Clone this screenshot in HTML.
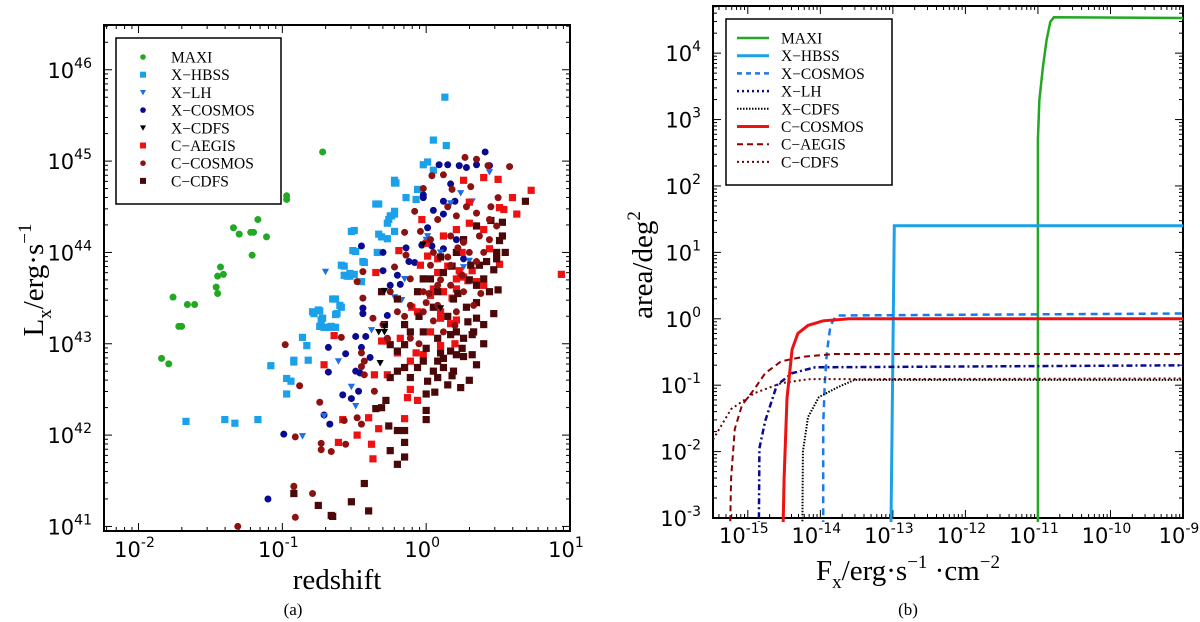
<!DOCTYPE html>
<html><head><meta charset="utf-8">
<style>
html,body{margin:0;padding:0;background:#fff;}
svg{display:block;}
text{font-family:"Liberation Serif",serif;}
.tk{font-family:"DejaVu Sans","Liberation Sans",sans-serif;font-size:21px;}
</style></head>
<body>
<svg id="fig" width="1200" height="622" viewBox="0 0 1200 622" xmlns="http://www.w3.org/2000/svg" style="position:absolute;left:0;top:0"></svg>
<script>
// ---------------- Panel (a) data: [log10 z, log10 Lx] ----------------
const maxiPts = [[-0.72,45.10],[-0.97,44.58],[-0.97,44.62],[-1.17,44.36],[-1.34,44.27],[-1.30,44.20],[-1.22,44.22],[-1.20,44.22],[-1.11,44.17],[-1.21,43.97],[-1.43,43.84],[-1.41,43.76],[-1.45,43.74],[-1.46,43.62],[-1.45,43.55],[-1.76,43.51],[-1.66,43.43],[-1.61,43.43],[-1.72,43.19],[-1.70,43.19],[-1.84,42.84],[-1.79,42.78]];
const hbssPts = [[-1.67,42.15],[-1.40,42.17],[-1.33,42.13],[-1.17,42.17],[-1.08,42.76],[-0.97,42.62],[-0.94,42.59],[-0.97,42.45],[-0.92,42.80],[-0.92,42.82],[-0.86,43.07],[-0.83,42.98],[-0.82,42.82],[-0.78,43.33],[-0.74,43.36],[-0.72,43.28],[-0.70,43.18],[-0.66,43.18],[-0.63,43.18],[-0.62,43.33],[-0.63,43.49],[-0.59,43.40],[-0.57,43.85],[-0.55,43.74],[-0.53,43.74],[-0.50,43.76],[-0.49,44.01],[-0.43,43.89],[-0.50,44.24],[-0.31,44.17],[-0.33,44.53],[-0.26,44.36],[-0.24,44.40],[-0.22,44.45],[-0.22,44.76],[0.13,45.70],[0.05,45.23],[0.14,45.17],[0.01,44.99],[-0.02,44.96],[0.05,44.90],[-0.22,44.79],[-0.21,44.76],[-0.14,44.60],[-0.07,44.58],[-0.06,44.69],[-0.35,44.53],[-0.27,44.32],[-0.25,44.40],[-0.22,44.42],[-0.33,44.20],[-0.27,44.15],[-0.22,44.23],[-0.52,44.23],[-0.51,44.02],[-0.44,43.90],[-0.34,44.00],[-0.59,43.86],[-0.57,43.75],[-0.53,43.77],[-0.45,43.68],[-0.65,43.49],[-0.60,43.42],[-0.63,43.32],[-0.79,43.35],[-0.75,43.37],[-0.73,43.26],[-0.74,43.19],[-0.71,43.18],[-0.66,43.19]];
const xcosPts = [[-0.99,42.01],[-1.10,41.30],[0.41,45.10],[0.09,44.96],[0.15,44.96],[0.23,44.95],[0.28,44.93],[0.35,44.96],[0.44,44.95],[-0.02,44.63],[-0.02,44.60],[0.17,44.75],[0.12,44.56],[0.20,44.56],[0.05,44.46],[0.12,44.42],[0.01,44.27],[-0.14,44.05],[-0.30,44.00],[-0.03,44.08],[0.04,44.07],[-0.12,43.90],[-0.08,43.89],[-0.30,43.80],[-0.45,44.07],[-0.20,43.75],[-0.25,43.64],[-0.18,43.65],[-0.44,43.39],[-0.44,43.33],[-0.49,43.08],[-0.42,43.08],[-0.27,43.31],[-0.68,42.96],[-0.56,42.89],[-0.45,42.96],[-0.68,42.69],[-0.39,42.85],[-0.49,42.70],[-0.46,42.68],[-0.58,42.44],[-0.52,42.40],[-0.47,42.48],[-0.71,42.22],[-0.67,42.12],[0.26,43.93],[0.12,44.04],[0.21,44.14]];
const xlhPts = [[-0.70,43.79],[-0.15,43.71],[-0.22,43.51],[-0.17,43.48],[-0.61,42.81],[-0.52,42.53],[-0.71,42.21],[-0.86,41.99],[-0.92,41.40],[-0.49,42.32],[-0.38,43.15],[0.01,44.18],[0.00,44.14],[0.24,44.65],[0.32,44.56],[0.44,44.88],[0.17,44.54],[0.30,43.91],[0.26,43.84],[0.10,44.00]];
const xcdfsPts = [[-0.02,44.09],[0.10,43.39],[-0.33,43.13],[-0.29,43.13],[-0.32,42.79],[-0.29,43.58],[-0.29,43.19]];
const caegPts = [[0.73,44.68],[0.63,44.42],[0.54,44.47],[0.51,44.49],[0.51,43.87],[0.44,44.04],[0.24,43.75],[0.26,43.73],[0.23,43.80],[0.26,44.79],[0.40,44.82],[0.50,44.80],[-0.03,44.36],[0.01,43.96],[0.08,43.93],[-0.19,44.02],[-0.35,43.78],[-0.64,43.09],[-0.71,42.77],[-0.31,43.03],[-0.27,43.03],[-0.18,43.06],[-0.07,42.90],[-0.02,42.88],[-0.11,42.81],[-0.36,42.66],[-0.27,42.66],[-0.11,42.50],[-0.06,42.38],[-0.13,42.41],[-0.40,42.19],[-0.33,42.07],[-0.15,42.18],[-0.58,42.17],[-0.61,41.92],[-0.48,42.00],[-0.38,41.90],[-0.37,41.74],[0.10,43.28],[0.17,43.22],[0.21,43.26],[0.12,43.57],[0.21,43.60],[0.03,43.53],[-0.06,43.35],[0.35,43.68],[0.40,43.64],[0.08,43.78],[0.21,43.71],[0.29,43.69],[-0.02,43.71],[-0.04,43.86],[0.12,44.18],[0.21,44.25],[0.30,44.32],[0.03,43.13],[0.10,42.98],[0.94,43.76],[0.15,43.85],[0.25,44.0],[0.05,43.6],[0.32,43.8],[0.18,43.5],[-0.1,43.4],[0.0,44.1],[0.4,44.25],[0.6,44.6],[0.2,43.0],[-0.2,42.9],[0.3,44.55],[0.1,43.35]];
const ccosPts = [[0.58,44.94],[0.27,45.04],[0.35,45.02],[0.43,44.95],[0.04,44.84],[-0.02,44.70],[0.18,44.69],[0.31,44.72],[0.08,44.36],[0.21,44.40],[0.35,44.43],[0.44,44.36],[-0.04,44.23],[0.03,44.14],[0.17,44.18],[0.26,44.11],[0.37,44.18],[-0.14,43.97],[-0.22,43.84],[-0.44,43.79],[-0.48,43.68],[-0.44,43.50],[-0.37,43.28],[-0.30,43.21],[-0.27,43.06],[-0.59,43.07],[-0.45,42.90],[-0.43,42.81],[-0.98,42.99],[-0.88,42.54],[-0.45,42.75],[-0.43,42.66],[-0.36,42.48],[-0.74,42.36],[-0.48,42.19],[-0.45,42.12],[-0.57,42.16],[-0.91,41.98],[-0.73,41.91],[-0.73,41.84],[-0.66,41.82],[-0.56,41.90],[-0.92,41.44],[-0.79,41.36],[-0.91,41.10],[-1.31,41.00],[-0.11,43.71],[-0.02,43.57],[0.08,43.64],[0.17,43.86],[-0.11,43.42],[-0.20,43.35],[-0.02,43.35],[0.08,43.42],[0.21,43.35],[0.33,43.42],[0.40,44.00],[0.44,44.14],[0.49,44.29],[-0.11,43.06],[-0.25,43.57],[-0.15,44.22],[0.12,43.13],[0.03,43.86],[0.17,43.64],[0.26,43.57],[0.15,43.95],[0.22,44.05],[0.30,44.0],[0.05,44.0],[0.0,43.45],[0.1,43.7],[0.25,43.75],[0.35,43.9],[0.45,44.5],[0.28,44.5],[0.15,44.5],[-0.08,44.45],[0.2,43.2],[0.05,43.25],[-0.05,43.0],[0.38,43.55],[0.5,44.6],[0.12,44.85],[0.02,43.55],[-0.15,43.3]];
const ccdfsPts = [[0.69,44.56],[0.53,44.33],[0.53,44.18],[0.51,44.13],[0.49,44.00],[0.49,43.93],[0.47,43.81],[0.50,43.59],[0.47,43.33],[0.35,43.28],[0.40,43.21],[0.33,43.13],[0.29,43.24],[0.32,42.88],[0.26,42.86],[0.21,42.88],[0.17,42.92],[0.35,42.77],[0.19,42.70],[0.12,42.74],[0.08,42.63],[0.01,42.59],[0.24,42.52],[0.18,42.65],[0.06,42.47],[0.00,42.45],[0.00,42.27],[0.00,42.17],[-0.15,42.05],[-0.15,41.92],[-0.20,42.05],[-0.26,42.10],[-0.25,41.83],[-0.15,41.76],[-0.20,41.68],[-0.31,42.30],[-0.35,42.29],[-0.28,42.38],[-0.43,41.47],[-0.52,41.27],[-0.40,41.17],[-0.66,41.12],[-0.65,41.11],[-0.75,41.23],[-0.92,41.36],[-0.25,42.63],[-0.20,42.70],[-0.15,42.74],[-0.11,42.63],[-0.06,42.74],[-0.20,42.92],[-0.15,42.99],[-0.25,42.99],[-0.11,43.13],[-0.02,43.13],[0.08,43.06],[0.17,43.10],[0.21,43.13],[-0.02,42.81],[0.08,42.81],[0.12,42.84],[0.26,43.06],[0.35,43.64],[0.40,43.71],[0.44,43.57],[0.31,43.86],[0.37,43.86],[0.26,44.14],[0.35,44.29],[0.21,44.00],[0.12,43.78],[0.03,43.71],[-0.06,43.57],[-0.02,43.71],[0.08,43.57],[0.19,43.49],[-0.20,43.49],[-0.31,43.57],[-0.29,43.21],[-0.15,43.21],[0.15,43.3],[0.28,43.4],[0.22,43.55],[0.05,43.4],[0.35,43.45],[0.42,43.9],[0.3,43.7],[0.25,42.95],[0.4,43.0],[0.1,42.9],[0.55,44.0],[0.45,44.35],[0.1,43.95],[0.18,43.85],[0.0,42.95],[-0.05,43.3],[0.32,43.1],[0.05,42.7],[0.15,42.55],[0.3,42.6]];
const aXTicks = [-2,-1,0,1];
const aYTicks = [41,42,43,44,45,46];

// ---------------- Panel (b) data: [log10 F, log10 area] ----------------
const maxiCurve = [[-11.0,-3.5],[-11.0,2.7],[-10.98,3.3],[-10.93,3.8],[-10.88,4.2],[-10.83,4.47],[-10.78,4.54],[-9.0,4.53]];
const hbssCurve = [[-13.03,-3.5],[-12.98,1.4],[-9.0,1.4]];
const xcosCurve = [[-13.96,-3.5],[-13.96,-1.6],[-13.94,-1.0],[-13.91,-0.5],[-13.86,-0.1],[-13.78,0.05],[-9.0,0.08]];
const xlhCurve = [[-14.85,-3.5],[-14.84,-1.95],[-14.76,-1.54],[-14.6,-1.0],[-14.39,-0.82],[-14.07,-0.73],[-9.0,-0.7]];
const xcdfsCurve = [[-14.25,-3.5],[-14.24,-2.0],[-14.17,-1.48],[-14.02,-1.18],[-13.76,-1.03],[-13.53,-0.92],[-9.0,-0.92]];
const ccosCurve = [[-14.52,-3.5],[-14.5,-2.4],[-14.46,-1.2],[-14.39,-0.46],[-14.31,-0.22],[-14.17,-0.1],[-13.96,-0.03],[-13.6,0.0],[-9.0,0.0]];
const caegCurve = [[-15.25,-3.5],[-15.23,-2.4],[-15.18,-1.66],[-15.08,-1.3],[-14.91,-1.06],[-14.76,-0.82],[-14.54,-0.64],[-14.22,-0.57],[-13.8,-0.53],[-9.0,-0.53]];
const ccdfsCurve = [[-15.48,-1.82],[-15.23,-1.36],[-14.91,-1.12],[-14.54,-0.97],[-14.17,-0.91],[-9.0,-0.9]];
const bXTicks = [-15,-14,-13,-12,-11,-10,-9];
const bYTicks = [-3,-2,-1,0,1,2,3,4];

const NS = "http://www.w3.org/2000/svg";
const svg = document.getElementById('fig');
function el(tag, attrs, parent){ const e=document.createElementNS(NS,tag); for(const k in attrs) e.setAttribute(k,attrs[k]); (parent||svg).appendChild(e); return e; }

const A = {x0:104, x1:570, y0:25, y1:531, lx0:-2.24, lx1:1.0, ly0:40.95, ly1:46.49, lab:26};
const B = {x0:713, x1:1183, y0:6, y1:518, lx0:-15.48, lx1:-9.0, ly0:-3.0, ly1:4.71, lab:25};
function sx(P,v){ return P.x0 + (v-P.lx0)/(P.lx1-P.lx0)*(P.x1-P.x0); }
function sy(P,v){ return P.y1 - (v-P.ly0)/(P.ly1-P.ly0)*(P.y1-P.y0); }

function clipFor(P,id){
  const d=el('defs',{}); const c=el('clipPath',{id:id},d);
  el('rect',{x:P.x0,y:P.y0-4,width:P.x1-P.x0,height:P.y1-P.y0+8},c);
}
clipFor(A,'clipA'); clipFor(B,'clipB');

function drawAxes(P, xt, yt, name){
  const g = el('g',{});
  
  
  const xmin = Math.floor(P.lx0), xmax=Math.ceil(P.lx1);
  for(let d=xmin; d<=xmax; d++){
    for(let m=1;m<10;m++){
      const v=d+Math.log10(m); if(v<P.lx0-1e-9||v>P.lx1+1e-9) continue;
      const X=sx(P,v), L=(m===1)?8:4;
      el('line',{x1:X,y1:P.y1,x2:X,y2:P.y1-L,stroke:'#000','stroke-width':1},g);
      el('line',{x1:X,y1:P.y0,x2:X,y2:P.y0+L,stroke:'#000','stroke-width':1},g);
    }
  }
  const ymin=Math.floor(P.ly0), ymax=Math.ceil(P.ly1);
  for(let d=ymin; d<=ymax; d++){
    for(let m=1;m<10;m++){
      const v=d+Math.log10(m); if(v<P.ly0-1e-9||v>P.ly1+1e-9) continue;
      const Y=sy(P,v), L=(m===1)?8:4;
      el('line',{x1:P.x0,y1:Y,x2:P.x0+L,y2:Y,stroke:'#000','stroke-width':1},g);
      el('line',{x1:P.x1,y1:Y,x2:P.x1-L,y2:Y,stroke:'#000','stroke-width':1},g);
    }
  }
  el('rect',{x:P.x0,y:P.y0,width:P.x1-P.x0,height:P.y1-P.y0,fill:'none',stroke:'#000','stroke-width':2},g);
  xt.forEach(v=>{
    const t=el('text',{x:sx(P,v)-4,y:P.y1+P.lab,'text-anchor':'middle',class:'tk'},g);
    
    
    t.appendChild(document.createTextNode('10'));
    const s=el('tspan',{'font-size':'14','dy':'-10'},t); s.textContent=String(v);
  });
  yt.forEach(v=>{
    const t=el('text',{x:P.x0-12,y:sy(P,v)+8,'text-anchor':'end',class:'tk'},g);
    
    
    t.appendChild(document.createTextNode('10'));
    const s=el('tspan',{'font-size':'14','dy':'-10'},t); s.textContent=String(v);
  });
}
drawAxes(A,aXTicks,aYTicks,'panel-a');
drawAxes(B,bXTicks,bYTicks,'panel-b');

function marker(g,shape,X,Y,col,r){
  let m;
  if(shape==='o') m=el('circle',{cx:X,cy:Y,r:r,fill:col},g);
  else if(shape==='s') m=el('rect',{x:X-r,y:Y-r,width:2*r,height:2*r,fill:col},g);
  else m=el('polygon',{points:`${X-r},${Y-r*0.8} ${X+r},${Y-r*0.8} ${X},${Y+r}`,fill:col},g);
  return m;
}
const series = [
  {pts:maxiPts, shape:'o', col:'#22a822', name:'maxi'},
  {pts:hbssPts, shape:'s', col:'#1ba1ea', name:'x-hbss'},
  {pts:xcosPts, shape:'o', col:'#0a0a90', name:'x-cosmos'},
  {pts:xlhPts, shape:'t', col:'#1e6ee6', name:'x-lh'},
  {pts:caegPts, shape:'s', col:'#ee1111', name:'c-aegis'},
  {pts:ccdfsPts, shape:'s', col:'#4a0808', name:'c-cdfs'},
  {pts:ccosPts, shape:'o', col:'#8c1212', name:'c-cosmos'},
  {pts:xcdfsPts, shape:'t', col:'#000000', name:'x-cdfs'}
];
series.forEach(s=>{
  const g=el('g',{'clip-path':'url(#clipA)'});
  
  
  s.pts.forEach(p=>{
    const m=marker(g,s.shape,sx(A,p[0]),sy(A,p[1]),s.col,s.shape==='o'?3.5:3.6);
    
    
  });
});

const legA = el('g',{});


el('rect',{x:116,y:38,width:165,height:166,fill:'#fff',stroke:'#000','stroke-width':1.5},legA);
const legAItems=[['MAXI','o','#22a822'],['X\u2212HBSS','s','#1ba1ea'],['X\u2212LH','t','#1e6ee6'],['X\u2212COSMOS','o','#0a0a90'],['X\u2212CDFS','t','#000'],['C\u2212AEGIS','s','#ee1111'],['C\u2212COSMOS','o','#8c1212'],['C\u2212CDFS','s','#4a0808']];
legAItems.forEach((it,i)=>{
  const Y=57+i*17.7;
  const m=marker(legA,it[1],143,Y,it[2],it[1]==='o'?2.8:3);
  
  
  const t=el('text',{x:171,y:Y+5.5,'font-size':'15.5'},legA); t.textContent=it[0];
  
  
});

const curves=[
  {d:maxiCurve,col:'#22a822',w:2.5,dash:'',name:'maxi'},
  {d:hbssCurve,col:'#1ba1ea',w:3,dash:'',name:'x-hbss'},
  {d:xcosCurve,col:'#1e78e6',w:2.5,dash:'7,5',name:'x-cosmos'},
  {d:xlhCurve,col:'#0a0a90',w:2.5,dash:'2,3,6,3',name:'x-lh'},
  {d:xcdfsCurve,col:'#000',w:2,dash:'1.5,1.5',name:'x-cdfs'},
  {d:caegCurve,col:'#8c0000',w:2,dash:'6,4',name:'c-aegis'},
  {d:ccdfsCurve,col:'#6a0000',w:2,dash:'2,3',name:'c-cdfs'},
  {d:ccosCurve,col:'#ee1111',w:3,dash:'',name:'c-cosmos'}
];
curves.forEach(c=>{
  const pts=c.d.map(p=>sx(B,p[0]).toFixed(1)+','+sy(B,p[1]).toFixed(1)).join(' ');
  const pl=el('polyline',{points:pts,fill:'none',stroke:c.col,'stroke-width':c.w,'stroke-dasharray':c.dash,'clip-path':'url(#clipB)'});
  
  
});

const legB = el('g',{});


el('rect',{x:726,y:19,width:166,height:166,fill:'#fff',stroke:'#000','stroke-width':1.5},legB);
const legBItems=[['MAXI','#22a822',2.5,''],['X\u2212HBSS','#1ba1ea',3,''],['X\u2212COSMOS','#1e78e6',2.5,'5,4'],['X\u2212LH','#0a0a90',2.5,'2,3'],['X\u2212CDFS','#000',2,'1.5,1.5'],['C\u2212COSMOS','#ee1111',3,''],['C\u2212AEGIS','#8c0000',2,'6,4'],['C\u2212CDFS','#6a0000',2,'2,3']];
legBItems.forEach((it,i)=>{
  const Y=38+i*17.7;
  const l=el('line',{x1:737,y1:Y,x2:769,y2:Y,stroke:it[1],'stroke-width':it[2],'stroke-dasharray':it[3]},legB);
  
  
  const t=el('text',{x:781,y:Y+5.5,'font-size':'15.5'},legB); t.textContent=it[0];
  
  
});
</script>
<div style="position:absolute;left:0;top:0;width:1200px;height:622px;pointer-events:none;">
<svg width="1200" height="622" style="position:absolute;left:0;top:0">
  <text x="337" y="589" text-anchor="middle" font-size="29" font-family="Liberation Serif, serif">redshift</text>
  <text x="293" y="615" text-anchor="middle" font-size="17" font-family="Liberation Serif, serif">(a)</text>
  <text transform="translate(43,280) rotate(-90)" text-anchor="middle" font-size="29" font-family="Liberation Serif, serif">L<tspan font-size="19" dy="8">x</tspan><tspan dy="-8">/erg·s</tspan><tspan font-size="19" dy="-12">−1</tspan></text>
  <text x="908" y="580" text-anchor="middle" font-size="29" font-family="Liberation Serif, serif">F<tspan font-size="19" dy="8">x</tspan><tspan dy="-8">/erg·s</tspan><tspan font-size="19" dy="-12">−1</tspan><tspan dy="12"> ·cm</tspan><tspan font-size="19" dy="-12">−2</tspan></text>
  <text x="908" y="615" text-anchor="middle" font-size="17" font-family="Liberation Serif, serif">(b)</text>
  <text transform="translate(652,265) rotate(-90)" text-anchor="middle" font-size="29" font-family="Liberation Serif, serif">area/deg<tspan font-size="19" dy="-12">2</tspan></text>
</svg>
</div>
</body></html>
